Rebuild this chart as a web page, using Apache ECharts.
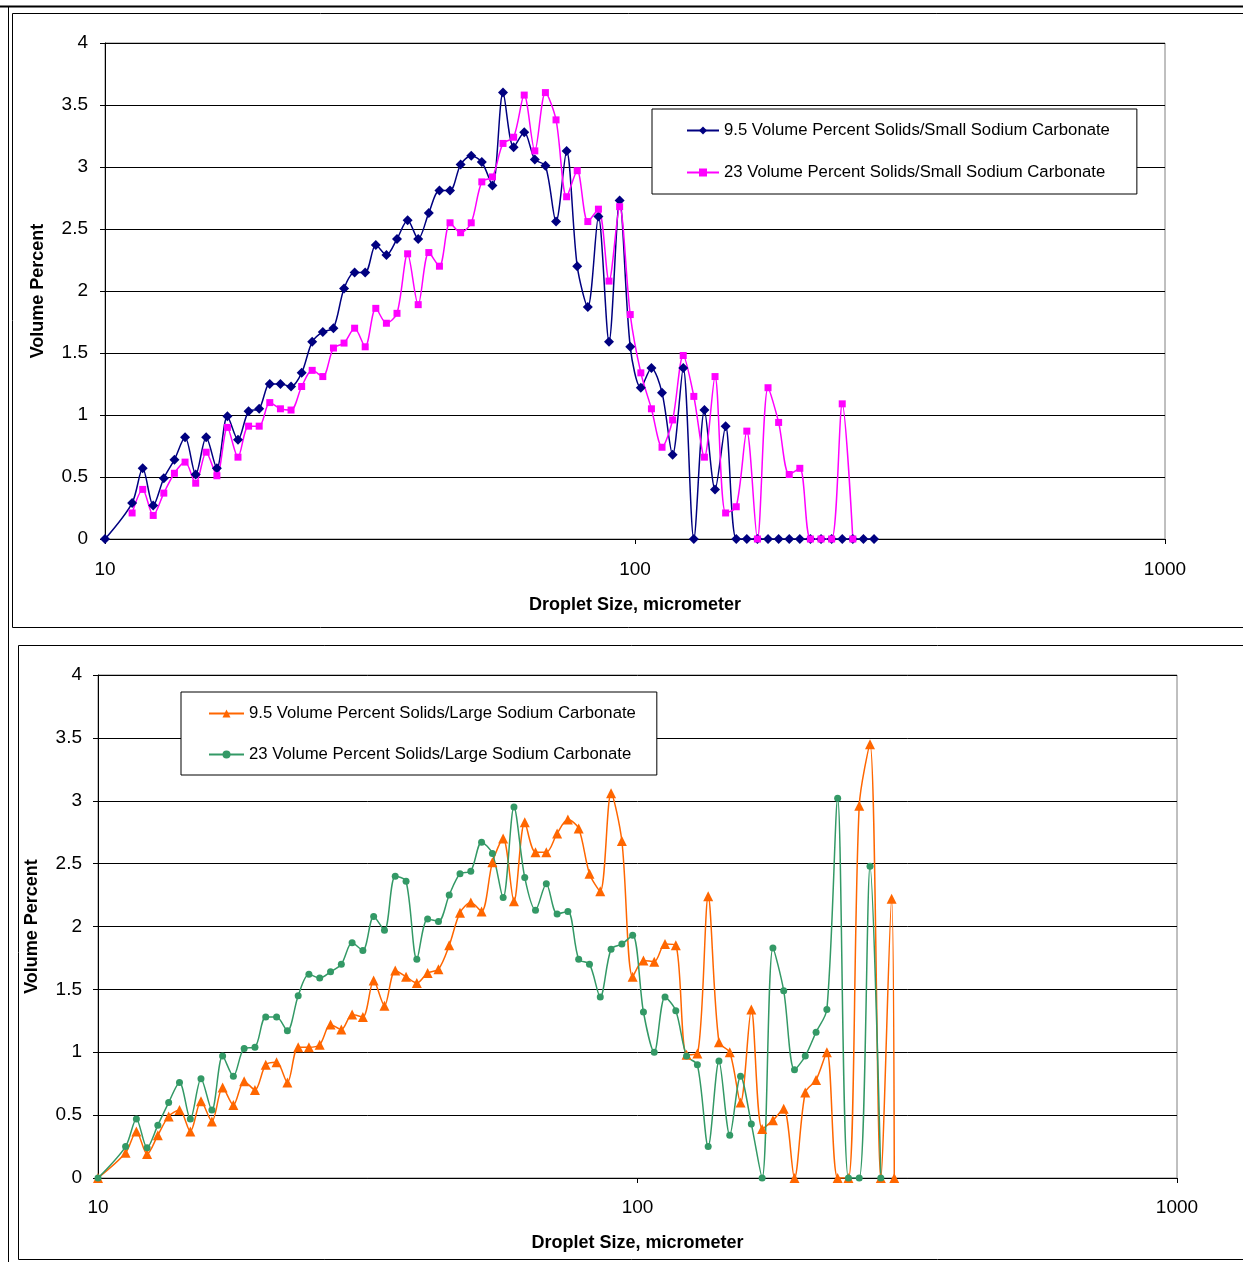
<!DOCTYPE html>
<html>
<head>
<meta charset="utf-8">
<title>Droplet size distributions</title>
<script src="https://cdn.jsdelivr.net/npm/echarts@6/dist/echarts.min.js"></script>
<style>
html, body { margin: 0; padding: 0; background: #fff; }
#main { width: 1243px; height: 1262px; }
</style>
</head>
<body>
<div id="main"></div>
<script>
// droplet size bins (micrometer), shared by all runs
var dropletSize = [10,
  11.25, 11.78, 12.33, 12.91, 13.52, 14.16, 14.83, 15.52, 16.26, 17.02,
  17.82, 18.66, 19.54, 20.46, 21.43, 22.44, 23.50, 24.60, 25.76, 26.98,
  28.25, 29.58, 30.97, 32.43, 33.96, 35.56, 37.24, 38.99, 40.83, 42.76,
  44.77, 46.88, 49.09, 51.40, 53.83, 56.36, 59.02, 61.80, 64.71, 67.76,
  70.96, 74.30, 77.80, 81.47, 85.31, 89.33, 93.54, 97.95, 102.57, 107.40,
  112.46, 117.76, 123.31, 129.12, 135.21, 141.58, 148.25, 155.24, 162.55, 170.22,
  178.24, 186.64, 195.43, 204.64, 214.29, 224.39, 234.96, 246.04, 257.63, 269.77,
  282.49, 295.80, 299.2];

// volume percent, small sodium carbonate
var smallSolids95 = [0,
  0.29, 0.57, 0.27, 0.49, 0.64, 0.82, 0.52, 0.82, 0.57, 0.99,
  0.80, 1.03, 1.05, 1.25, 1.25, 1.23, 1.34, 1.59, 1.67, 1.70,
  2.02, 2.15, 2.15, 2.37, 2.29, 2.42, 2.57, 2.42, 2.63, 2.81,
  2.81, 3.02, 3.09, 3.04, 2.85, 3.60, 3.16, 3.28, 3.06, 3.01,
  2.56, 3.13, 2.20, 1.87, 2.60, 1.59, 2.73, 1.55, 1.22, 1.38,
  1.18, 0.68, 1.38, 0, 1.04, 0.40, 0.91, 0, 0, 0,
  0, 0, 0, 0, 0, 0, 0, 0, 0, 0,
  0, null, null];

var smallSolids23 = [null,
  0.21, 0.40, 0.19, 0.37, 0.53, 0.62, 0.45, 0.70, 0.51, 0.90,
  0.66, 0.91, 0.91, 1.10, 1.05, 1.04, 1.23, 1.36, 1.31, 1.54,
  1.58, 1.70, 1.55, 1.86, 1.74, 1.82, 2.30, 1.89, 2.31, 2.20,
  2.55, 2.47, 2.55, 2.88, 2.92, 3.19, 3.24, 3.58, 3.13, 3.60,
  3.38, 2.76, 2.97, 2.56, 2.66, 2.08, 2.68, 1.81, 1.34, 1.05,
  0.74, 0.96, 1.48, 1.15, 0.66, 1.31, 0.21, 0.26, 0.87, 0,
  1.22, 0.94, 0.52, 0.57, 0, 0, 0, 1.09, 0, null,
  null, null, null];

// volume percent, large sodium carbonate
var largeSolids95 = [0,
  0.20, 0.37, 0.19, 0.34, 0.49, 0.54, 0.37, 0.61, 0.45, 0.72,
  0.58, 0.77, 0.70, 0.90, 0.92, 0.76, 1.04, 1.04, 1.06, 1.22,
  1.18, 1.30, 1.28, 1.57, 1.37, 1.65, 1.60, 1.55, 1.63, 1.66,
  1.85, 2.11, 2.19, 2.12, 2.51, 2.70, 2.20, 2.83, 2.59, 2.59,
  2.74, 2.85, 2.78, 2.42, 2.28, 3.06, 2.68, 1.60, 1.73, 1.72,
  1.86, 1.85, 0.98, 0.99, 2.24, 1.08, 1.00, 0.60, 1.34, 0.39,
  0.46, 0.55, 0, 0.68, 0.78, 1.00, 0, 0, 2.96, 3.45,
  0, 2.22, 0];

var largeSolids23 = [0,
  0.25, 0.47, 0.24, 0.42, 0.60, 0.76, 0.47, 0.79, 0.54, 0.97,
  0.81, 1.03, 1.04, 1.28, 1.28, 1.17, 1.45, 1.62, 1.59, 1.64,
  1.70, 1.87, 1.81, 2.08, 1.97, 2.40, 2.36, 1.74, 2.06, 2.04,
  2.25, 2.42, 2.44, 2.67, 2.58, 2.23, 2.95, 2.39, 2.13, 2.34,
  2.10, 2.12, 1.74, 1.70, 1.44, 1.82, 1.86, 1.93, 1.32, 1.00,
  1.44, 1.33, 0.97, 0.90, 0.25, 0.93, 0.34, 0.81, 0.43, 0,
  1.83, 1.49, 0.86, 0.97, 1.16, 1.34, 3.02, 0, 0, 2.48,
  0, null, null];

var seriesNames = [
  '9.5 Volume Percent Solids/Small Sodium Carbonate',
  '23 Volume Percent Solids/Small Sodium Carbonate',
  '9.5 Volume Percent Solids/Large Sodium Carbonate',
  '23 Volume Percent Solids/Large Sodium Carbonate'
];

var FONT = '"Liberation Sans", Arial, sans-serif';

function pairs(vals) {
  var out = [];
  for (var i = 0; i < vals.length; i++) {
    if (vals[i] !== null) out.push([dropletSize[i], vals[i]]);
  }
  return out;
}

function xAxisFor(idx, labelMargin, nameGap) {
  return {
    type: 'log', logBase: 10, min: 10, max: 1000, gridIndex: idx,
    name: 'Droplet Size, micrometer', nameLocation: 'middle', nameGap: nameGap,
    nameTextStyle: { fontFamily: FONT, fontSize: 18, fontWeight: 'bold', color: '#000' },
    axisLine: { lineStyle: { color: '#000', width: 1 } },
    axisTick: { show: true, inside: false, length: 5, lineStyle: { color: '#000' } },
    axisLabel: { fontFamily: FONT, fontSize: 19, color: '#000', margin: labelMargin,
      formatter: function (v) { return String(Math.round(v)); } },
    splitLine: { show: false },
    minorTick: { show: false }
  };
}

function yAxisFor(idx, labelMargin, nameGap) {
  return {
    type: 'value', min: 0, max: 4, interval: 0.5, gridIndex: idx,
    name: 'Volume Percent', nameLocation: 'middle', nameGap: nameGap, nameRotate: 90,
    nameTextStyle: { fontFamily: FONT, fontSize: 18, fontWeight: 'bold', color: '#000' },
    axisLine: { show: true, lineStyle: { color: '#000', width: 1 } },
    axisTick: { show: true, inside: false, length: 5, lineStyle: { color: '#000' } },
    axisLabel: { fontFamily: FONT, fontSize: 19, color: '#000', margin: labelMargin },
    splitLine: { show: true, lineStyle: { color: '#000', width: 1 } }
  };
}

function legendFor(names, left, top, padding, gap, itemWidth) {
  return {
    data: names, orient: 'vertical', left: left, top: top,
    padding: padding, itemGap: gap, itemWidth: itemWidth, itemHeight: 10,
    backgroundColor: '#fff', borderColor: '#000', borderWidth: 1, borderRadius: 0,
    selectedMode: false,
    textStyle: { fontFamily: FONT, fontSize: 16.7, color: '#000' }
  };
}

function lineSeries(name, idx, vals, color, symbol, size) {
  return {
    name: name, type: 'line', xAxisIndex: idx, yAxisIndex: idx,
    data: pairs(vals), smooth: 0.3,
    symbol: symbol, symbolSize: size, showSymbol: true,
    lineStyle: { color: color, width: 1.5 },
    itemStyle: { color: color, borderWidth: 0 },
    emphasis: { disabled: true },
    animation: false
  };
}

var myChart = echarts.init(document.getElementById('main'));

myChart.setOption({
  backgroundColor: '#fff',
  animation: false,
  grid: [
    { left: 105, top: 43, width: 1060, height: 496, show: true, borderColor: '#808080', borderWidth: 1, backgroundColor: 'transparent' },
    { left: 98, top: 675, width: 1079, height: 503, show: true, borderColor: '#808080', borderWidth: 1, backgroundColor: 'transparent' }
  ],
  xAxis: [xAxisFor(0, 21, 57), xAxisFor(1, 20, 56)],
  yAxis: [yAxisFor(0, 17, 58), yAxisFor(1, 16, 57)],
  legend: [
    legendFor([seriesNames[0], seriesNames[1]], 652, 109, [13, 27, 13, 34], 25, 32),
    legendFor([seriesNames[2], seriesNames[3]], 181, 692, [13, 21, 12, 27], 24, 35)
  ],
  series: [
    lineSeries(seriesNames[0], 0, smallSolids95, '#000080', 'diamond', 10),
    lineSeries(seriesNames[1], 0, smallSolids23, '#FF00FF', 'rect', 7),
    lineSeries(seriesNames[2], 1, largeSolids95, '#FF6600', 'triangle', 10),
    lineSeries(seriesNames[3], 1, largeSolids23, '#339966', 'circle', 7)
  ],
  graphic: [
    // outer frame and the two chart boxes
    { type: 'line', silent: true, shape: { x1: 0, y1: 6.5, x2: 1243, y2: 6.5 }, style: { stroke: '#000', lineWidth: 2 } },
    { type: 'line', silent: true, shape: { x1: 8.5, y1: 6, x2: 8.5, y2: 1262 }, style: { stroke: '#000', lineWidth: 1 } },
    { type: 'rect', silent: true, shape: { x: 12.5, y: 13.5, width: 1240, height: 614 }, style: { fill: 'none', stroke: '#000', lineWidth: 1 } },
    { type: 'rect', silent: true, shape: { x: 18.5, y: 645.5, width: 1240, height: 614 }, style: { fill: 'none', stroke: '#000', lineWidth: 1 } }
  ]
});
</script>
</body>
</html>
